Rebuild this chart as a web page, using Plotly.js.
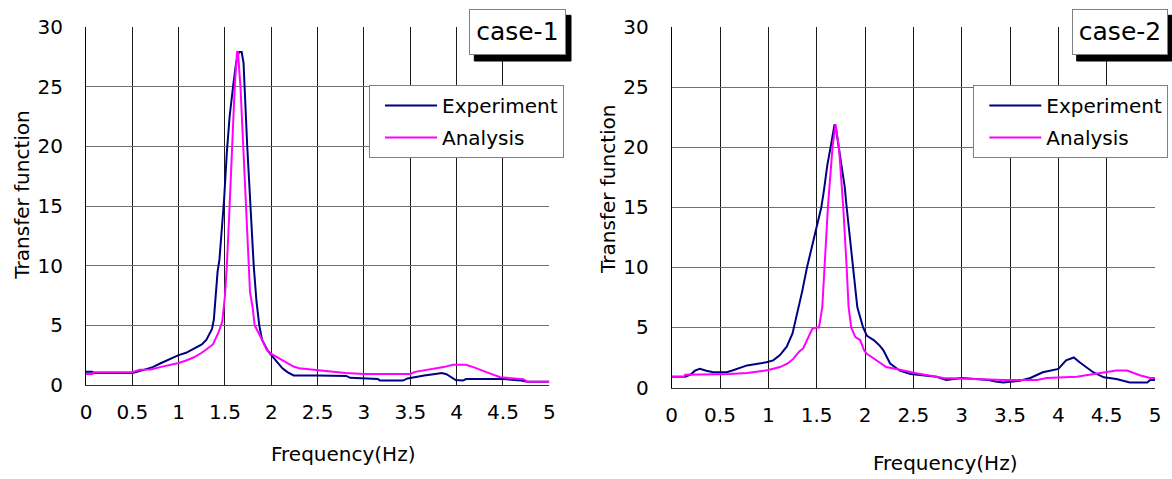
<!DOCTYPE html>
<html>
<head>
<meta charset="utf-8">
<script src="https://cdn.plot.ly/plotly-3.0.1.min.js"></script>
<style>html,body{margin:0;padding:0;background:#fff;}#chart{width:1172px;height:479px;}</style>
</head>
<body>
<div id="chart"></div>
<script>
// ---- Data: case-1 ----
const case1ExpFreq = [0,0.07,0.08,0.5,0.55,0.65,0.72,0.8,0.88,1.0,1.08,1.16,1.25,1.3,1.33,1.36,1.38,1.4,1.42,1.44,1.47,1.49,1.52,1.55,1.59,1.62,1.65,1.68,1.7,1.71,1.74,1.775,1.81,1.84,1.87,1.9,1.96,2.0,2.06,2.12,2.17,2.24,2.5,2.81,2.85,3.0,3.15,3.17,3.42,3.47,3.53,3.65,3.75,3.84,3.89,3.95,3.99,4.07,4.1,4.5,4.65,4.7,4.76,5.0];
const case1ExpVal  = [1.1,1.1,1.0,1.0,1.1,1.3,1.5,1.8,2.1,2.5,2.7,3.0,3.4,3.8,4.3,4.7,5.5,7.2,9.5,10.5,13.5,15.5,19.5,22.5,25.2,27.0,27.9,27.9,27.0,25.0,20.0,15.0,10.0,7.0,5.0,3.8,2.9,2.5,1.9,1.4,1.1,0.8,0.8,0.76,0.6,0.58,0.5,0.37,0.37,0.55,0.65,0.8,0.9,1.0,0.9,0.6,0.42,0.37,0.5,0.5,0.45,0.37,0.28,0.28];
const case1AnaFreq = [0,0.07,0.08,0.5,0.58,0.7,0.8,0.9,1.0,1.08,1.16,1.25,1.3,1.37,1.43,1.47,1.5,1.52,1.55,1.577,1.605,1.63,1.64,1.667,1.695,1.724,1.75,1.77,1.8,1.82,1.88,1.95,2.0,2.06,2.13,2.24,2.3,2.45,2.67,2.8,3.0,3.5,3.55,3.68,3.8,3.86,3.96,4.1,4.18,4.25,4.35,4.47,4.6,4.72,4.76,5.0];
const case1AnaVal  = [0.93,0.93,1.07,1.07,1.27,1.3,1.5,1.65,1.85,2.05,2.3,2.7,3.0,3.4,4.4,5.3,7.5,10.0,15.0,20.0,25.0,27.9,27.9,25.0,20.0,15.0,10.0,7.8,6.4,5.0,4.1,2.97,2.6,2.34,1.98,1.55,1.4,1.27,1.13,1.0,0.93,0.93,1.1,1.27,1.4,1.5,1.69,1.69,1.5,1.27,1.0,0.65,0.55,0.48,0.28,0.28];

// ---- Data: case-2 ----
const case2ExpFreq = [0,0.14,0.2,0.24,0.29,0.33,0.36,0.43,0.57,0.62,0.67,0.78,0.98,1.05,1.12,1.19,1.25,1.3,1.35,1.4,1.456,1.5,1.548,1.575,1.61,1.644,1.685,1.7,1.73,1.79,1.81,1.85,1.88,1.92,1.98,2.02,2.09,2.15,2.19,2.23,2.26,2.36,2.47,2.74,2.84,3.0,3.28,3.35,3.43,3.6,3.71,3.84,4.0,4.08,4.16,4.22,4.36,4.47,4.6,4.74,4.92,4.95,5.0];
const case2ExpVal  = [0.9,0.9,1.1,1.4,1.55,1.5,1.4,1.27,1.27,1.4,1.55,1.84,2.1,2.26,2.7,3.4,4.5,6.2,8.0,10.0,12.0,13.5,15.0,16.4,18.5,20.0,21.9,21.5,20.0,16.7,15.0,12.0,10.0,6.7,5.0,4.3,3.95,3.5,3.1,2.5,2.0,1.4,1.13,0.9,0.62,0.79,0.62,0.5,0.42,0.56,0.79,1.27,1.55,2.26,2.5,2.1,1.27,0.85,0.7,0.42,0.42,0.62,0.62];
const case2AnaFreq = [0,0.13,0.14,0.57,0.6,0.78,0.9,1.0,1.12,1.2,1.26,1.32,1.36,1.4,1.456,1.5,1.524,1.558,1.582,1.616,1.664,1.695,1.73,1.775,1.81,1.83,1.857,1.9,1.95,1.99,2.02,2.12,2.22,2.4,2.53,2.81,3.43,3.78,3.88,4.19,4.4,4.47,4.6,4.71,4.85,4.95,5.0];
const case2AnaVal  = [0.9,0.9,1.07,1.07,1.13,1.2,1.35,1.45,1.7,2.0,2.4,3.0,3.25,4.0,4.9,5.0,5.0,6.7,10.0,15.0,20.0,21.9,20.0,15.0,10.0,6.7,5.0,4.2,3.95,3.1,2.8,2.26,1.7,1.41,1.19,0.79,0.62,0.62,0.79,0.9,1.13,1.27,1.41,1.41,1.0,0.79,0.79];

const seriesNames = ["Experiment", "Analysis"];
const caseLabels = ["case-1", "case-2"];
const xTitle = "Frequency(Hz)";
const yTitle = "Transfer function";

const FONT = "DejaVu Sans";
const expColor = "#000080";
const anaColor = "#FF00FF";

const traces = [
  {x: case1ExpFreq, y: case1ExpVal, name: seriesNames[0], xaxis: "x", yaxis: "y", legend: "legend", legendgroup: "e1",
   mode: "lines", line: {color: expColor, width: 2}},
  {x: case1AnaFreq, y: case1AnaVal, name: seriesNames[1], xaxis: "x", yaxis: "y", legend: "legend", legendgroup: "a1",
   mode: "lines", line: {color: anaColor, width: 2}},
  {x: case2ExpFreq, y: case2ExpVal, name: seriesNames[0], xaxis: "x2", yaxis: "y2", legend: "legend2", legendgroup: "e2",
   mode: "lines", line: {color: expColor, width: 2}},
  {x: case2AnaFreq, y: case2AnaVal, name: seriesNames[1], xaxis: "x2", yaxis: "y2", legend: "legend2", legendgroup: "a2",
   mode: "lines", line: {color: anaColor, width: 2}}
];

const W = 1172, H = 479;
const px = v => v / W;
const py = v => 1 - v / H;

function xAxis(domain, anchor) {
  return {domain: domain, anchor: anchor, range: [0, 5], dtick: 0.5, tick0: 0,
    showgrid: true, gridcolor: "#1a1a1a", gridwidth: 1, zeroline: false,
    showline: true, linecolor: "#333", linewidth: 1, mirror: false,
    ticks: "", ticklabelstandoff: 9,
    tickfont: {family: FONT, size: 20, color: "#000"}, fixedrange: true};
}
function yAxis(domain, anchor) {
  return {domain: domain, anchor: anchor, range: [0, 30], dtick: 5, tick0: 0,
    showgrid: true, gridcolor: "#6e6e6e", gridwidth: 1, zeroline: false,
    showline: true, linecolor: "#000", linewidth: 1,
    ticks: "", ticklabelstandoff: 18,
    tickfont: {family: FONT, size: 20, color: "#000"}, fixedrange: true};
}

function legendDef(xLeft, yTop) {
  return {x: px(xLeft), y: py(yTop), xanchor: "left", yanchor: "top",
    bgcolor: "#fff", bordercolor: "#808080", borderwidth: 1,
    font: {family: FONT, size: 20, color: "#000"},
    traceorder: "grouped", tracegroupgap: 3, itemwidth: 52, indentation: 10};
}

function caseBox(label, x0, x1, y0, y1) {
  return {text: label, xref: "paper", yref: "paper", x: px((x0 + x1) / 2), y: py((y0 + y1) / 2),
    xanchor: "center", yanchor: "middle", showarrow: false,
    width: x1 - x0 - 2, height: y1 - y0 - 2, borderpad: 0,
    bgcolor: "#fff", bordercolor: "#808080", borderwidth: 1,
    font: {family: FONT, size: 25, color: "#000"}};
}
function shadow(x0, x1, y0, y1) {
  return {type: "rect", xref: "paper", yref: "paper",
    x0: px(x0 + 5), x1: px(x1 + 5), y0: py(y1 + 6), y1: py(y0 + 6),
    fillcolor: "#000000", opacity: 1, line: {color: "#000000", width: 1}, layer: "above", visible: true};
}

const layout = {
  width: W, height: H, margin: {l: 0, r: 0, t: 0, b: 0},
  paper_bgcolor: "#fff", plot_bgcolor: "#fff",
  font: {family: FONT, color: "#000"},
  xaxis: xAxis([px(86), px(549.3)], "y"),
  yaxis: yAxis([py(385), py(27)], "x"),
  xaxis2: xAxis([px(671.7), px(1155)], "y2"),
  yaxis2: yAxis([py(387.5), py(27)], "x2"),
  legend: legendDef(369, 85),
  legend2: legendDef(973.3, 85),
  shapes: [shadow(469.3, 566, 9.3, 55), shadow(1071.7, 1167.7, 9.3, 55)],
  annotations: [
    caseBox(caseLabels[0], 469.3, 566, 9.3, 55),
    caseBox(caseLabels[1], 1071.7, 1167.7, 9.3, 55),
    {text: xTitle, xref: "paper", yref: "paper", x: px(342.5), y: py(454), xanchor: "center", yanchor: "middle",
     showarrow: false, font: {family: FONT, size: 20, color: "#000"}},
    {text: xTitle, xref: "paper", yref: "paper", x: px(945), y: py(463), xanchor: "center", yanchor: "middle",
     showarrow: false, font: {family: FONT, size: 20, color: "#000"}},
    {text: yTitle, xref: "paper", yref: "paper", x: px(21.7), y: py(195), xanchor: "center", yanchor: "middle",
     textangle: -90, showarrow: false, font: {family: FONT, size: 20, color: "#000"}},
    {text: yTitle, xref: "paper", yref: "paper", x: px(608), y: py(189), xanchor: "center", yanchor: "middle",
     textangle: -90, showarrow: false, font: {family: FONT, size: 20, color: "#000"}}
  ],
  showlegend: true
};

Plotly.newPlot("chart", traces, layout, {staticPlot: true, displayModeBar: false});
</script>
</body>
</html>
